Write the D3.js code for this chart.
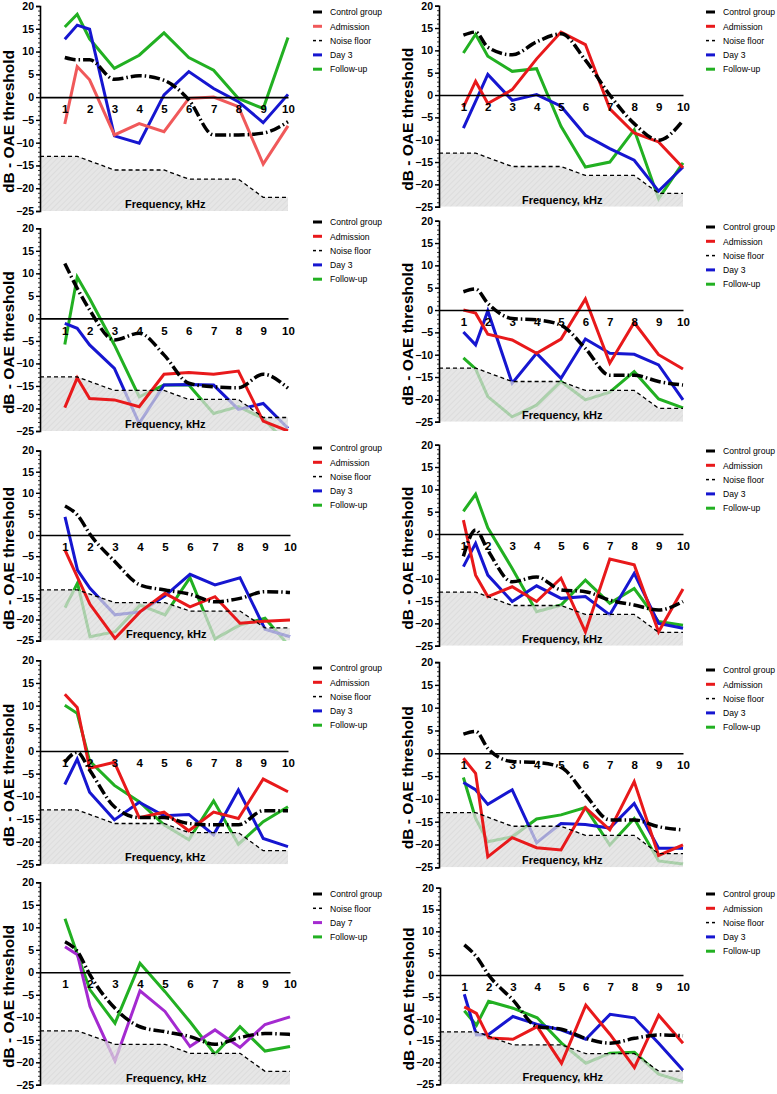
<!DOCTYPE html>
<html><head><meta charset="utf-8">
<script src="https://cdn.jsdelivr.net/npm/d3@7/dist/d3.min.js"></script>
<style>body{margin:0;background:#fff}svg{display:block;font-family:"Liberation Sans",Arial,sans-serif}</style>
</head><body><svg id="c" width="777" height="1094"></svg>
<script>
// ---------- shared data ----------
const freqs = [1, 1.5, 2, 3, 4, 5, 6, 7, 8, 9, 10];
const xTickValues = [1, 2, 3, 4, 5, 6, 7, 8, 9, 10];
const yTickValues = [20, 15, 10, 5, 0, -5, -10, -15, -20, -25];
const noiseFreqs = [0, 1, 1.5, 3, 4, 5, 6, 7, 8, 9, 10];
const noiseFloor = [-13, -13, -13, -16, -16, -16, -18, -18, -18, -22, -22];
const legendLabels = ["Control group", "Admission", "Noise floor", "Day 3", "Follow-up"];
const legendLabels9 = ["Control group", "Noise floor", "Day 7", "Follow-up"];

// ---------- panel values (dB) at freqs ----------
const p1Control   = [8.7, 8.2, 8.2, 3.9, 4.7, 3.7, -0.6, -8.3, -8.3, -7.9, -5.4];
const p1Admission = [-5.9, 6.7, 3.8, -8.3, -5.8, -7.6, -0.3, 0.0, -2.1, -14.7, -6.3];
const p1Day3      = [12.7, 15.8, 14.9, -8.5, -10.1, 0.5, 5.6, 1.9, -1.0, -5.6, 0.6];
const p1Follow    = [15.4, 18.2, 12.8, 6.3, 9.2, 14.1, 8.7, 5.9, -0.3, -2.5, 13.1];

const p2Control   = [13.4, 14.1, 10.7, 9.0, 11.9, 13.7, 7.8, 0.0, -6.4, -10.1, -5.7];
const p2Admission = [-2.7, 3.1, -1.9, 1.2, 8.1, 14.1, 11.3, -3.1, -8.5, -10.5, -16.3];
const p2Day3      = [-7.4, -1.4, 4.6, -1.2, 0.1, -2.5, -9.0, -12.0, -14.6, -21.5, -16.1];
const p2Follow    = [9.4, 13.6, 8.7, 5.3, 5.9, -7.0, -16.1, -15.0, -7.8, -23.2, -15.2];

const p3Control   = [12.2, 6.7, 1.9, -4.8, -3.3, -8.1, -14.4, -15.2, -15.4, -12.4, -15.5];
const p3Admission = [-19.8, -13.2, -17.8, -18.1, -19.6, -12.4, -12.0, -12.4, -11.7, -22.8, -25.0];
const p3Day3      = [-1.1, -2.2, -5.9, -11.1, -23.3, -14.8, -14.7, -14.8, -20.2, -18.9, -24.4];
const p3Follow    = [-5.8, 9.2, 4.4, -5.9, -17.4, -14.8, -14.8, -21.1, -19.6, -22.2, -28.0];

const p4Control   = [4.1, 4.7, 1.5, -1.9, -2.2, -3.4, -8.6, -14.6, -14.6, -16.0, -16.8];
const p4Admission = [0.0, -0.7, -5.4, -6.7, -9.7, -6.5, 2.5, -11.9, -2.8, -10.0, -13.2];
const p4Day3      = [-4.9, -7.8, -0.2, -16.4, -9.7, -15.3, -6.5, -9.7, -9.9, -12.3, -20.1];
const p4Follow    = [-10.7, -13.2, -19.4, -23.9, -21.3, -16.0, -20.1, -18.4, -13.8, -19.9, -21.9];

const p5Control   = [6.9, 4.7, 0.2, -6.3, -11.8, -13.0, -14.0, -15.8, -15.0, -13.4, -13.6];
const p5Admission = [-3.6, -10.0, -16.4, -24.5, -18.2, -13.8, -17.0, -14.6, -20.9, -20.4, -20.1];
const p5Day3      = [4.3, -8.3, -12.6, -18.9, -18.2, -14.4, -9.3, -11.8, -10.1, -22.3, -24.1];
const p5Follow    = [-17.2, -11.4, -24.1, -22.9, -16.6, -18.9, -10.1, -24.6, -21.3, -19.7, -26.5];

const p6Control   = [-5.0, 0.9, -3.6, -10.7, -9.6, -12.5, -12.9, -14.8, -15.9, -17.0, -15.1];
const p6Admission = [3.1, -9.2, -14.0, -11.8, -15.1, -9.9, -21.9, -5.6, -6.9, -21.9, -12.3];
const p6Day3      = [-7.3, -2.1, -9.2, -15.1, -11.6, -14.4, -14.0, -18.1, -8.8, -20.0, -21.1];
const p6Follow    = [5.1, 8.9, 1.4, -7.7, -17.4, -15.9, -10.3, -15.5, -12.2, -19.6, -20.4];

const p7Control   = [-2.5, -0.3, -4.2, -12.3, -14.7, -14.7, -16.0, -16.3, -16.3, -13.2, -13.2];
const p7Admission = [12.5, 9.6, -3.8, -2.5, -14.7, -13.5, -17.6, -13.5, -14.9, -6.2, -9.0];
const p7Day3      = [-7.4, -1.8, -9.1, -15.2, -11.3, -14.3, -14.0, -18.5, -8.6, -19.3, -21.1];
const p7Follow    = [10.1, 8.3, -2.2, -7.6, -11.2, -16.3, -19.6, -11.0, -20.6, -15.6, -12.3];

const p8Control   = [4.2, 4.8, 1.1, -1.8, -2.0, -3.1, -9.1, -14.6, -14.6, -16.1, -16.8];
const p8Admission = [-1.1, -4.4, -22.7, -18.5, -20.7, -21.2, -11.9, -16.8, -6.2, -22.4, -20.1];
const p8Day3      = [-6.4, -8.0, -11.2, -8.0, -19.6, -15.4, -15.6, -16.4, -11.0, -20.8, -20.8];
const p8Follow    = [-5.3, -14.3, -19.4, -18.3, -14.4, -13.5, -11.9, -20.1, -14.3, -23.6, -24.3];

const p9Control   = [6.8, 4.6, -0.6, -8.0, -12.1, -13.2, -14.3, -16.0, -14.5, -13.6, -13.8];
const p9Day7      = [5.7, 3.9, -7.6, -19.7, -4.1, -8.7, -16.5, -12.8, -16.7, -11.6, -9.9];
const p9Follow    = [11.9, 3.9, -3.9, -11.3, 2.0, -4.3, -11.0, -18.2, -12.1, -17.5, -16.5];

const p10Control   = [6.9, 4.2, 0.0, -5.7, -11.8, -12.4, -14.5, -15.6, -14.5, -13.7, -13.9];
const p10Admission = [-7.3, -8.8, -14.4, -14.7, -11.8, -20.2, -6.9, -13.6, -21.2, -9.2, -15.6];
const p10Day3      = [-4.4, -13.7, -13.6, -9.5, -11.3, -12.6, -14.7, -9.0, -9.8, -15.6, -21.8];
const p10Follow    = [-8.2, -11.5, -6.0, -7.6, -9.8, -15.6, -20.2, -17.9, -17.7, -22.7, -24.4];

// ---------- styles ----------
const RED = "#e8191b", RED_LIGHT = "#f0595a", BLUE = "#1616d0", GREEN = "#22b022", PURPLE = "#a42ad0";

// panels: under = drawn beneath the noise-floor shading, over = drawn above
const panels = [
  {L:40,  R:288, T:6,     B:211,   legX:313, legY:12,  labels:legendLabels,  legColors:["#000",RED_LIGHT,"noise",BLUE,GREEN],
   under:[[p1Follow,GREEN],[p1Day3,BLUE]], over:[[p1Admission,RED_LIGHT]], control:p1Control},
  {L:439, R:683, T:5.7,   B:206.7, legX:706, legY:12,  labels:legendLabels,  legColors:["#000",RED,"noise",BLUE,GREEN],
   under:[[p2Follow,GREEN],[p2Day3,BLUE]], over:[[p2Admission,RED]], control:p2Control},
  {L:40,  R:288, T:228.3, B:431,   legX:313, legY:222, labels:legendLabels,  legColors:["#000",RED,"noise",BLUE,GREEN],
   under:[[p3Follow,GREEN],[p3Day3,BLUE]], over:[[p3Admission,RED]], control:p3Control},
  {L:439, R:683, T:220.7, B:421.7, legX:706, legY:227, labels:legendLabels,  legColors:["#000",RED,"noise",BLUE,GREEN],
   under:[[p4Follow,GREEN],[p4Day3,BLUE]], over:[[p4Admission,RED]], control:p4Control},
  {L:40,  R:290, T:450.6, B:640.6, legX:313, legY:448, labels:legendLabels,  legColors:["#000",RED,"noise",BLUE,GREEN],
   under:[[p5Follow,GREEN],[p5Day3,BLUE]], over:[[p5Admission,RED]], control:p5Control},
  {L:439, R:683, T:444.7, B:645.7, legX:706, legY:451, labels:legendLabels,  legColors:["#000",RED,"noise",BLUE,GREEN],
   under:[[p6Follow,GREEN],[p6Day3,BLUE]], over:[[p6Admission,RED]], control:p6Control},
  {L:40,  R:288, T:660.3, B:864.3, legX:313, legY:668, labels:legendLabels,  legColors:["#000",RED,"noise",BLUE,GREEN],
   under:[[p7Follow,GREEN],[p7Day3,BLUE]], over:[[p7Admission,RED]], control:p7Control},
  {L:439, R:683, T:662.1, B:867.3, legX:706, legY:670, labels:legendLabels,  legColors:["#000",RED,"noise",BLUE,GREEN],
   under:[[p8Follow,GREEN],[p8Day3,BLUE]], over:[[p8Admission,RED]], control:p8Control},
  {L:40,  R:290, T:882.3, B:1084.8,legX:313, legY:894, labels:legendLabels9, legColors:["#000","noise",PURPLE,GREEN],
   under:[[p9Follow,GREEN],[p9Day7,PURPLE]], over:[], control:p9Control},
  {L:440, R:683, T:887.7, B:1084.2,legX:706, legY:894, labels:legendLabels,  legColors:["#000",RED,"noise",BLUE,GREEN],
   under:[[p10Follow,GREEN],[p10Day3,BLUE]], over:[[p10Admission,RED]], control:p10Control}
];

const svg = d3.select("#c");
const defs = svg.append("defs");
const pat = defs.append("pattern").attr("id","hatch").attr("width",4).attr("height",4)
  .attr("patternUnits","userSpaceOnUse").attr("patternTransform","rotate(45)");
pat.append("rect").attr("width",4).attr("height",4).attr("fill","#dddddd");
pat.append("line").attr("x1",0).attr("y1",0).attr("x2",0).attr("y2",4).attr("stroke","#c9c9c9").attr("stroke-width",1.3);

panels.forEach((p, i) => {
  const x = d3.scaleLinear().domain([0, 10]).range([p.L, p.R]);
  const y = d3.scaleLinear().domain([20, -25]).range([p.T, p.B]);
  const g = svg.append("g");
  const cid = "clip" + i;
  defs.append("clipPath").attr("id", cid).append("rect")
    .attr("x", p.L).attr("y", p.T - 2).attr("width", p.R - p.L + 2).attr("height", p.B - p.T + 2);
  const plot = g.append("g").attr("clip-path", `url(#${cid})`);

  const line = d3.line().x(d => x(d[0])).y(d => y(d[1]));
  const pairs = vals => freqs.map((f, k) => [f, vals[k]]);

  p.under.forEach(([vals, col]) => {
    plot.append("path").attr("d", line(pairs(vals))).attr("fill","none")
      .attr("stroke", col).attr("stroke-width", 3).attr("stroke-linejoin","miter");
  });

  const noise = noiseFreqs.map((f, k) => [f, noiseFloor[k]]);
  const area = d3.area().x(d => x(d[0])).y0(y(-25)).y1(d => y(d[1]));
  plot.append("path").attr("d", area(noise)).attr("fill","url(#hatch)").attr("opacity",0.74);

  p.over.forEach(([vals, col]) => {
    plot.append("path").attr("d", line(pairs(vals))).attr("fill","none")
      .attr("stroke", col).attr("stroke-width", 3).attr("stroke-linejoin","miter");
  });

  plot.append("path").attr("d", line(noise)).attr("fill","none")
    .attr("stroke","#000").attr("stroke-width",1.3).attr("stroke-dasharray","4,3");

  const cline = d3.line().curve(d3.curveMonotoneX).x(d => x(d[0])).y(d => y(d[1]));
  plot.append("path").attr("d", cline(pairs(p.control))).attr("fill","none")
    .attr("stroke","#000").attr("stroke-width",3.5).attr("stroke-dasharray","11,3,1.5,3");

  // y axis
  const yAxis = d3.axisLeft(y).tickValues(yTickValues).tickSize(4).tickPadding(2);
  const ya = g.append("g").attr("transform", `translate(${p.L},0)`).call(yAxis);
  ya.select(".domain").attr("stroke-width",1.6);
  ya.selectAll(".tick line").attr("stroke-width",1.4);
  ya.selectAll("text").attr("font-size",10.5).attr("font-weight","bold").attr("fill","#000");
  const yMinor = d3.axisLeft(y).tickValues(d3.range(-25, 21, 1)).tickSize(2).tickFormat("");
  const ym = g.append("g").attr("transform", `translate(${p.L},0)`).call(yMinor);
  ym.select(".domain").remove();
  ym.selectAll(".tick line").attr("stroke-width",0.8);

  // x axis at 0
  const xAxis = d3.axisBottom(x).tickValues(xTickValues).tickSize(0).tickPadding(8);
  const xa = g.append("g").attr("transform", `translate(0,${y(0)})`).call(xAxis);
  xa.select(".domain").attr("stroke-width",1.6);
  xa.selectAll("text").attr("font-size",11.5).attr("font-weight","bold").attr("fill","#000");

  g.append("text").attr("x", x(5.05)).attr("y", y(-24.3)).attr("text-anchor","middle")
    .attr("font-size",11).attr("font-weight","bold").text("Frequency, kHz");

  g.append("text").attr("transform", `translate(${p.L - 26},${(p.T + p.B) / 2 + 13}) rotate(-90)`)
    .attr("text-anchor","middle").attr("font-size",15.5).attr("font-weight","bold").text("dB - OAE threshold");

  // legend
  const lg = g.append("g").attr("transform", `translate(${p.legX},${p.legY})`);
  p.labels.forEach((lab, k) => {
    const row = lg.append("g").attr("transform", `translate(0,${k * 14.3})`);
    const c = p.legColors[k];
    if (c === "noise") {
      row.append("line").attr("x1",0).attr("x2",3).attr("stroke","#000").attr("stroke-width",1.5);
      row.append("line").attr("x1",6).attr("x2",9).attr("stroke","#000").attr("stroke-width",1.5);
    } else {
      row.append("line").attr("x1",0).attr("x2",9).attr("stroke",c).attr("stroke-width",3);
    }
    row.append("text").attr("x",17).attr("y",3.2).attr("font-size",8.6).text(lab);
  });
});
</script></body></html>
